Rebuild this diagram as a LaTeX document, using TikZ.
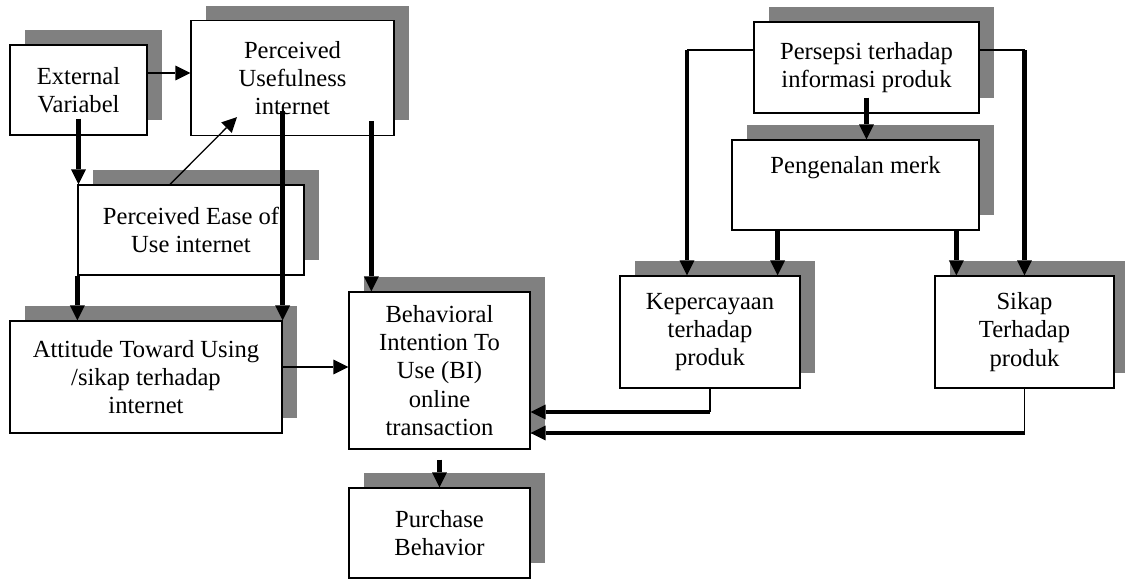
\documentclass[tikz,border=0pt]{standalone}
\usepackage{fontspec}
\setmainfont{Liberation Serif}
\usetikzlibrary{arrows.meta,shadows}

\begin{document}
\begin{tikzpicture}[
  x=0.02cm, y=-0.02cm,
  every node/.style={font=\fontsize{14}{16}\selectfont},
  kotak/.style={draw, fill=white, line width=0.7pt, align=center, inner sep=2pt,
    drop shadow={shadow xshift=0.3cm, shadow yshift=0.3cm, fill=gray, opacity=1}},
  tipis/.style={line width=0.75pt},
  tebal/.style={line width=2.6pt},
  ujung/.style={-{Triangle[length=8.5pt,width=8.5pt,line width=0pt]}},
]

% ---- Page: 1125 x 581 px, one unit = one pixel ----
\useasboundingbox (0,0) rectangle (1125,581);

% ---- Left block: TAM ----
\node[kotak, minimum width=2.74cm, minimum height=1.8cm] (ext) at (78.5,90)
  {External\\Variabel};
\node[kotak, minimum width=4.06cm, minimum height=2.3cm] (pu) at (292.5,78)
  {Perceived\\Usefulness\\internet};
\node[kotak, minimum width=4.52cm, minimum height=1.8cm] (peou) at (191,230)
  {Perceived Ease of\\Use internet};
\node[kotak, minimum width=5.44cm, minimum height=2.24cm] (att) at (146,377)
  {Attitude Toward Using\\/sikap terhadap\\internet};
\node[kotak, minimum width=3.62cm, minimum height=3.14cm] (bi) at (439.5,370.5)
  {Behavioral\\Intention To\\Use (BI)\\online\\transaction};
\node[kotak, minimum width=3.62cm, minimum height=1.8cm] (pb) at (439.5,533)
  {Purchase\\Behavior};

% ---- Right block: produk ----
\node[kotak, minimum width=4.5cm, minimum height=1.82cm] (pip) at (866.5,67.5)
  {Persepsi terhadap\\informasi produk};
\node[kotak, minimum width=4.94cm, minimum height=1.8cm,
      text height=10pt, text depth=23.6pt] (pm) at (855.5,185)
  {Pengenalan merk};
\node[kotak, minimum width=3.6cm, minimum height=2.24cm] (kp) at (710,332)
  {Kepercayaan\\terhadap\\produk};
\node[kotak, minimum width=3.58cm, minimum height=2.24cm] (sp) at (1024.5,332)
  {Sikap\\Terhadap\\produk};

% ---- Helper points ----
\coordinate (extR) at ([yshift=0.34cm]ext.east);
\coordinate (extB) at ([yshift=0.34cm]ext.south);
\coordinate (puB)  at ([yshift=0.5cm]pu.south);
\coordinate (puC)  at ([yshift=0.3cm]pu.south);
\coordinate (attR) at ([yshift=0.2cm]att.east);
\coordinate (biA)  at ([xshift=0.46cm]bi.north west);
\coordinate (biK)  at ([yshift=-0.83cm]bi.east);
\coordinate (biS)  at ([yshift=-1.25cm]bi.east);
\coordinate (pipL) at ([yshift=0.35cm]pip.west);
\coordinate (pipR) at ([yshift=0.35cm]pip.east);
\coordinate (pipB) at ([yshift=0.32cm]pip.south);
\coordinate (kpA)  at ([xshift=-0.46cm]kp.north);
\coordinate (kpB)  at ([xshift=-0.46cm]kp.north east);
\coordinate (spA)  at ([xshift=0.44cm]sp.north west);

% ---- Left connectors ----
\draw[tipis, ujung] (extR) -- (extR -| pu.west);
\draw[tebal, ujung] (extB) -- (extB |- peou.north);
\draw[tipis, ujung] ([xshift=-0.42cm]peou.north) -- ([xshift=-1.11cm, yshift=0.38cm]pu.south);
\draw[tebal, ujung] (peou.south west) -- (peou.south west |- att.north);
\draw[tebal, ujung] (puB -| att.north east) -- (att.north east);
\draw[tebal, ujung] (puC -| biA) -- (biA);
\draw[tipis, ujung] (attR) -- (attR -| bi.west);
\draw[tebal, ujung] ([yshift=-0.2cm]bi.south) -- (pb.north);

% ---- Right connectors ----
\draw[tebal, ujung] (pipB) -- (pipB |- pm.north);
\draw[tipis] (pipL) -- (pipL -| kpA);
\draw[tebal, ujung] (pipL -| kpA) -- (kpA);
\draw[tipis] (pipR) -- (pipR -| sp.north);
\draw[tebal, ujung] (pipR -| sp.north) -- (sp.north);
\draw[tebal, ujung] (pm.south -| kpB) -- (kpB);
\draw[tebal, ujung] (pm.south -| spA) -- (spA);

% ---- Back to BI ----
\draw[tipis] (kp.south) -- (kp.south |- biK);
\draw[tebal, ujung] (kp.south |- biK) -- (biK);
\draw[tipis] (sp.south) -- (sp.south |- biS);
\draw[tebal, ujung] (sp.south |- biS) -- (biS);

\end{tikzpicture}
\end{document}
